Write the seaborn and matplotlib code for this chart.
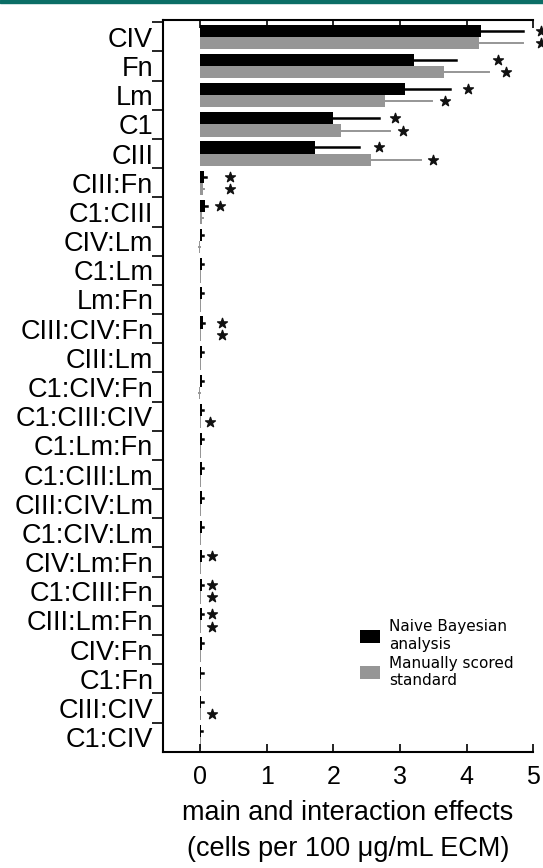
import numpy as np
import pandas as pd
import matplotlib
matplotlib.use("Agg")
import matplotlib.pyplot as plt
import seaborn as sns

# effect names, top to bottom
terms = ['CIV', 'Fn', 'Lm', 'C1', 'CIII', 'CIII:Fn', 'C1:CIII', 'CIV:Lm', 'C1:Lm',
         'Lm:Fn', 'CIII:CIV:Fn', 'CIII:Lm', 'C1:CIV:Fn', 'C1:CIII:CIV', 'C1:Lm:Fn',
         'C1:CIII:Lm', 'CIII:CIV:Lm', 'C1:CIV:Lm', 'CIV:Lm:Fn', 'C1:CIII:Fn',
         'CIII:Lm:Fn', 'CIV:Fn', 'C1:Fn', 'CIII:CIV', 'C1:CIV']

# naive bayesian analysis
bayes_vals = [4.21, 3.21, 3.08, 1.99, 1.72, 0.06, 0.07, 0.03, 0.03,
              0.03, 0.04, 0.03, 0.03, 0.03, 0.03,
              0.03, 0.03, 0.03, 0.03, 0.03,
              0.03, 0.03, 0.02, 0.02, 0.01]
bayes_err = [0.63, 0.63, 0.67, 0.70, 0.67, 0.03, 0.03, 0.02, 0.02,
             0.02, 0.02, 0.02, 0.02, 0.02, 0.02,
             0.02, 0.02, 0.02, 0.02, 0.02,
             0.02, 0.02, 0.02, 0.02, 0.02]
bayes_sig = [True, True, True, True, True, True, True, False, False,
             False, True, False, False, False, False,
             False, False, False, True, True,
             True, False, False, False, False]

# manually scored standard
manual_vals = [4.18, 3.66, 2.78, 2.11, 2.56, 0.04, 0.03, -0.01, 0.01,
               0.01, 0.01, 0.01, -0.01, 0.01, 0.01,
               0.01, 0.01, 0.01, 0.01, 0.01,
               0.01, 0.01, 0.01, 0.01, 0.01]
manual_err = [0.66, 0.68, 0.70, 0.74, 0.76, 0.02, 0.02, 0.01, 0.01,
              0.01, 0.01, 0.01, 0.01, 0.01, 0.01,
              0.01, 0.01, 0.01, 0.01, 0.01,
              0.01, 0.01, 0.01, 0.01, 0.01]
manual_sig = [True, True, True, True, True, True, False, False, False,
              False, True, False, False, True, False,
              False, False, False, False, True,
              True, False, False, True, False]

# star positions
bayes_star = [5.11, 4.47, 4.02, 2.92, 2.68, 0.45, 0.30, 0, 0,
              0, 0.33, 0, 0, 0, 0,
              0, 0, 0, 0.18, 0.18,
              0.18, 0, 0, 0, 0]
manual_star = [5.11, 4.59, 3.68, 3.04, 3.50, 0.45, 0, 0, 0,
               0, 0.33, 0, 0, 0.15, 0,
               0, 0, 0, 0, 0.18,
               0.18, 0, 0, 0.18, 0]

series = ['Naive Bayesian\nanalysis', 'Manually scored\nstandard']
colors = ['#000000', '#969696']

df = pd.DataFrame({
    'term': terms * 2,
    'value': bayes_vals + manual_vals,
    'series': [series[0]] * len(terms) + [series[1]] * len(terms),
})

plt.rcParams['font.family'] = ['Liberation Sans', 'DejaVu Sans']

fig = plt.figure(figsize=(5.43, 8.68), dpi=100)
ax = fig.add_axes([0.300, 0.1336, 0.682, 0.8434])

width = 0.84
sns.barplot(data=df, x='value', y='term', hue='series', order=terms,
            hue_order=series, palette=colors, orient='h', width=width,
            saturation=1, ax=ax, errorbar=None, legend=True)

off = width / 4
pos = np.arange(len(terms))
for yy, v, e in zip(pos - off, bayes_vals, bayes_err):
    ax.plot([v, v + e], [yy, yy], color='black', lw=1.8, zorder=1)
for yy, v, e in zip(pos + off, manual_vals, manual_err):
    ax.plot([v, v + e], [yy, yy], color='#969696', lw=1.4, zorder=1)

for yy, s, xs in zip(pos - off, bayes_sig, bayes_star):
    if s:
        ax.scatter([xs], [yy], marker='*', s=55, color='#111111', zorder=4, clip_on=False)
for yy, s, xs in zip(pos + off, manual_sig, manual_star):
    if s:
        ax.scatter([xs], [yy], marker='*', s=55, color='#111111', zorder=4, clip_on=False)

ax.set_xlim(-0.555, 5.0)
ax.set_ylim(len(terms) - 0.49, -0.58)

# labels sit between the boundary ticks
ax.set_yticks(pos)
ax.set_yticklabels(terms, fontsize=19.5)
ax.tick_params(axis='y', which='major', length=0, pad=7)
ax.set_yticks(pos - 0.5, minor=True)
ax.tick_params(axis='y', which='minor', length=8, width=1.2, direction='out')

ax.set_xticks([0, 1, 2, 3, 4, 5])
ax.tick_params(axis='x', which='major', length=6, width=1.2, direction='in',
               top=True, labelsize=18, pad=9)
ax.set_xlabel('main and interaction effects\n(cells per 100 \u03bcg/mL ECM)',
              fontsize=19.5, labelpad=8, linespacing=1.5)
ax.set_ylabel('')

for side in ['left', 'bottom', 'top']:
    ax.spines[side].set_linewidth(1.5)
ax.spines['right'].set_visible(False)

ax.legend(loc='upper left', bbox_to_anchor=(0.495, 0.20), frameon=False,
          prop={'family': 'DejaVu Sans', 'size': 11}, handlelength=1.3,
          handleheight=0.9, handletextpad=0.6, labelspacing=0.25)

# teal strip at the top of the figure
fig.patches.append(plt.Rectangle((0, 0.9965), 1, 0.0035, transform=fig.transFigure,
                                 color='#0b6e66', zorder=0))

fig.savefig('out.png', dpi=100)
